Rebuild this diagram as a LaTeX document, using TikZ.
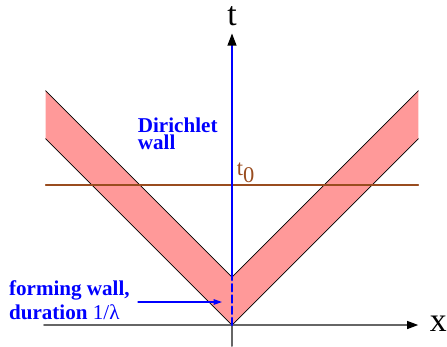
\documentclass[tikz,border=0pt]{standalone}
\usepackage{fontspec}
\setmainfont{Liberation Serif}
\usepackage{tikz}
\usetikzlibrary{arrows.meta}
\definecolor{qqqqff}{rgb}{0.,0.,1.}
\definecolor{wallpink}{rgb}{1.,0.6,0.6}
\definecolor{tzerobrown}{rgb}{0.6,0.3,0.12}
\definecolor{axisgray}{rgb}{0.4,0.4,0.4}

\begin{document}
\begin{tikzpicture}[line cap=round,line join=round,>={Triangle[length=8pt,width=5.5pt]},x=1.0cm,y=1.0cm,
  bluetext/.style={anchor=base west,inner sep=0pt,text=qqqqff,text height=10.5pt,text depth=0pt,font=\bfseries\fontsize{15}{16}\selectfont}]
\useasboundingbox (-5.8,-0.525) rectangle (5.375,8.125);
\coordinate (O) at (0,0);
\coordinate (A) at (0,1.2);
% the band between the two light cones
\fill [wallpink] (-4.66,4.66)-- (O)-- (4.66,4.66)-- (4.66,5.86)-- (A)-- (-4.66,5.86)-- cycle;
\draw [line width=0.5pt] (-4.66,4.66)-- (O)-- (4.66,4.66);
\draw [line width=0.5pt] (-4.66,5.86)-- (A)-- (4.66,5.86);
% time slice t_0
\draw [line width=0.8pt,color=tzerobrown] (-4.66,3.5)-- (4.66,3.5);
\node [anchor=south west,inner sep=1pt,text=tzerobrown,font=\fontsize{16}{18}\selectfont] (tzero) at (0.08,3.52) {t$_{\textrm{0}}$};
% axes
\draw [line width=1.4pt,color=axisgray,-{Triangle[length=8pt,width=5.5pt,color=black]}] (-4.7,0)-- (4.66,0);
\node [font=\fontsize{24}{26}\selectfont] (xlabel) at (5.16,0.02) {x};
\draw [line width=1.4pt,color=axisgray] (0,-0.525)-- (O);
\draw [line width=2pt,color=qqqqff,dashed,dash pattern=on 5pt off 3pt] (O)-- (A);
\draw [line width=2pt,color=qqqqff,-{Triangle[length=9pt,width=6pt,color=black]}] (A)-- (0,7.3);
\node [font=\fontsize{24}{26}\selectfont] (tlabel) at (0,7.72) {t};
% labels
\node [bluetext] (dirichlet) at (-2.36,4.82) {Dirichlet};
\node [bluetext] (wall) at (-2.36,4.38) {wall};
\node [bluetext] (forming) at (-5.58,0.74) {forming wall,};
\node [bluetext] (duration) at (-5.58,0.15) {duration {\mdseries 1/λ}};
\coordinate (wallmid) at (-0.25,0.575);
\draw [line width=0.8pt,color=qqqqff,->,>={Triangle[length=6pt,width=4pt]}] (-2.35,0.575)-- (wallmid);
\end{tikzpicture}
\end{document}
